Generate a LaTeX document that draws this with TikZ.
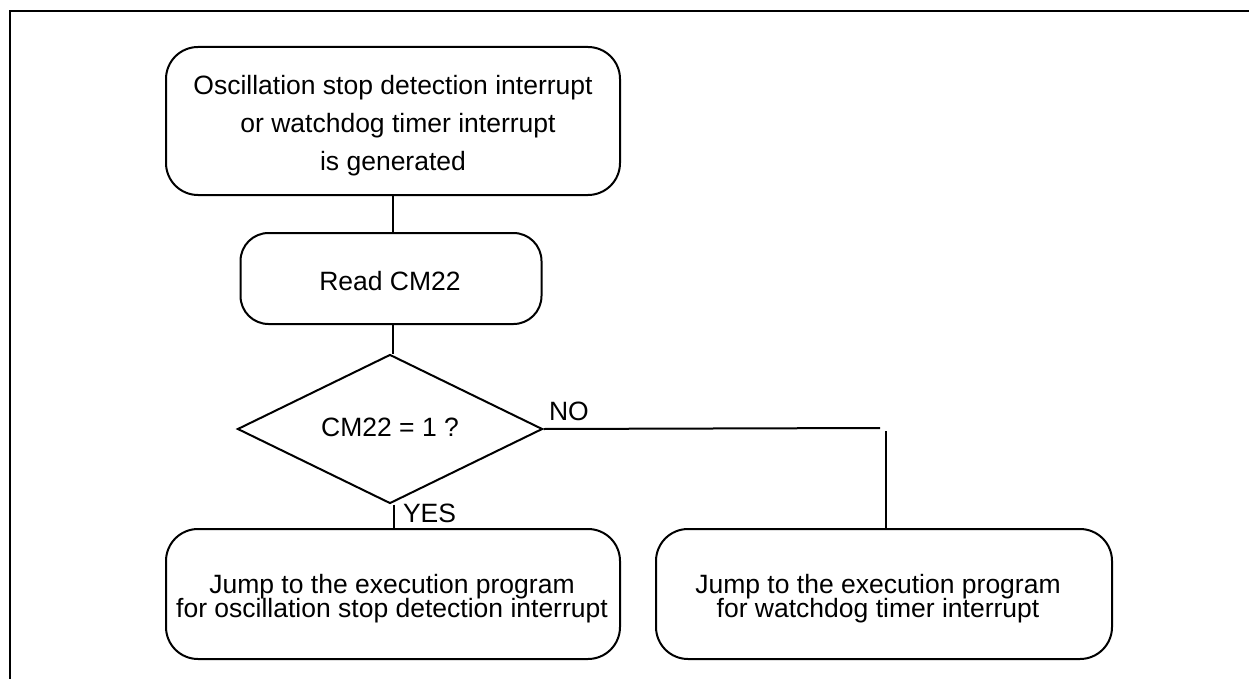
\documentclass[tikz,border=0pt]{standalone}
\usepackage{fontspec}
\setmainfont{Liberation Sans}
\usetikzlibrary{shapes.geometric}
\newcommand\mytightlines{\lineskiplimit=-50pt\relax}
\begin{document}
\begin{tikzpicture}[x=1pt,y=-1pt,line width=2pt,
  boxnode/.style={draw,rectangle,rounded corners=32pt,inner sep=0pt},
  dianode/.style={draw,diamond,inner sep=0pt},
  txt/.style={inner sep=0pt,align=center,font={\fontsize{26.5}{38}\selectfont}},
  txtb/.style={inner sep=0pt,align=center,font={\fontsize{26.5}{24}\selectfont\mytightlines}},
  lbl/.style={inner sep=0pt,anchor=base west,font={\fontsize{26.5}{30}\selectfont}}]
\useasboundingbox (0,0) rectangle (1249,679);
% outer frame (top and left edges)
\coordinate (fr1) at (1249,11);
\coordinate (fr2) at (10,11);
\coordinate (fr3) at (10,679);
\draw[line width=2.4pt] (fr1) -- (fr2) -- (fr3);
% boxes
\node[boxnode,minimum width=454pt,minimum height=148pt] (b1) at (393,121) {};
\node[txt] (t1) at (393,125.3) {Oscillation stop detection interrupt\\\kern10pt or watchdog timer interrupt\\is generated};
\node[boxnode,rounded corners=28pt,minimum width=301pt,minimum height=91pt] (b2) at (391,278.5) {};
\node[txt,anchor=base] (t2) at (390,290) {Read CM22};
\node[dianode,minimum width=305pt,minimum height=149pt] (dia) at (390,429) {};
\node[txt,anchor=base] (t3) at (390,436) {CM22 = 1 ?};
\node[boxnode,minimum width=454pt,minimum height=130pt] (b3) at (393,594) {};
\node[txtb] (t4) at (392,599) {Jump to the execution program\\for oscillation stop detection interrupt};
\node[boxnode,minimum width=456pt,minimum height=130pt] (b4) at (884,594) {};
\node[txtb] (t5) at (878,599) {Jump to the execution program\\for watchdog timer interrupt};
% connectors
\draw (b1.south) -- (b1.south |- b2.north);
\draw (b1.south |- b2.south) -- (b1.south |- dia.north);
\draw ([xshift=4pt]dia.south) -- ([xshift=4pt]dia.south |- b3.north);
\coordinate (noend) at (880,428);
\coordinate (notop) at (886,431);
\draw (dia.east) -- (noend);
\draw (notop) -- (notop |- b4.north);
% labels
\node[lbl] (no) at (548,420) {NO};
\node[lbl] (yes) at (402,522) {YES};
\end{tikzpicture}
\end{document}
